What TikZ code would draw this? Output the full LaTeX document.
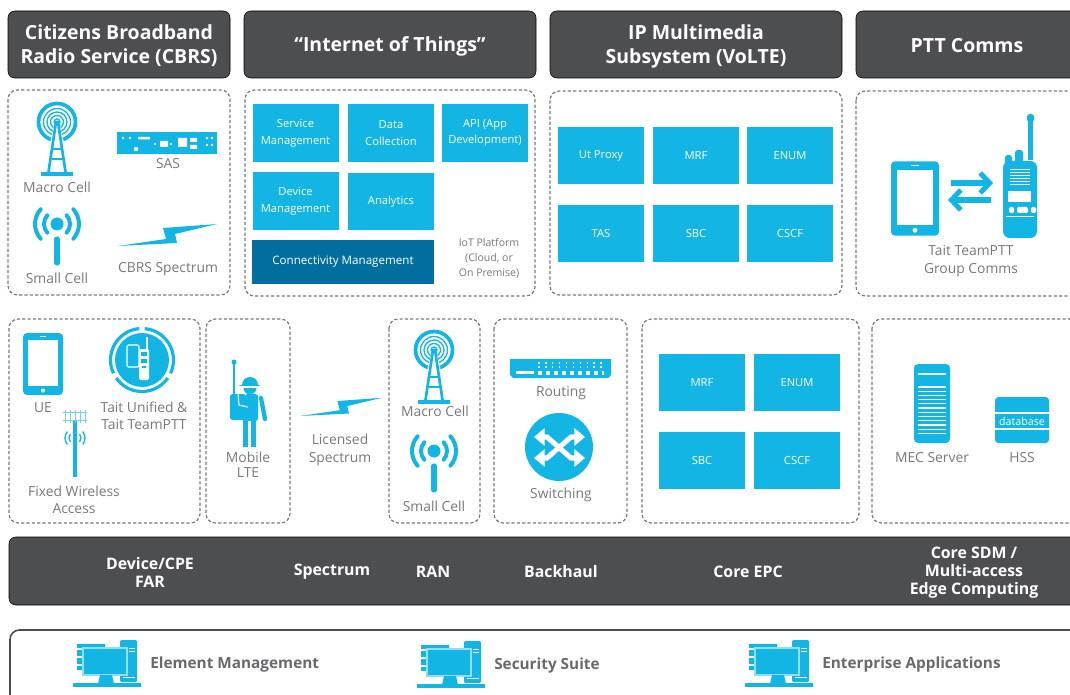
\documentclass[tikz,border=0pt]{standalone}
\usepackage{fontspec}
\setmainfont{Open Sans}
\usetikzlibrary{arrows.meta}
\definecolor{taitblue}{HTML}{12B5E3}
\definecolor{taitdark}{HTML}{006F9F}
\definecolor{slate}{HTML}{4D4E50}
\definecolor{labelgrey}{HTML}{77787A}
\tikzset{
  icon/.style={yscale=-1},
  panel/.style={draw=labelgrey,line width=0.9pt,dash pattern=on 2.4pt off 1.6pt,rounded corners=7pt},
  hdrbox/.style={fill=slate,rounded corners=5pt},
  hdrtext/.style={text=white,align=center,font=\fontsize{14.6}{18}\selectfont\bfseries},
  bartext/.style={text=white,align=center,font=\fontsize{11.9}{13.5}\selectfont\bfseries},
  lbl/.style={text=labelgrey,align=center,font=\fontsize{10.4}{12.5}\selectfont},
  block/.style={fill=taitblue,text=white,align=center,minimum width=64.5pt,minimum height=43pt,inner sep=0pt,font=\fontsize{8.4}{12.5}\selectfont},
  mgmt/.style={text=slate!85,anchor=west,font=\fontsize{11.5}{13}\selectfont\bfseries},
  pics/macrocell/.style={code={
    \draw[taitblue,line width=2.8pt] (0,0) circle (18.5);
    \draw[taitblue,line width=1pt] (0,0) circle (13.5) (0,0) circle (10) (0,0) circle (6.5) (0,0) circle (3);
    \fill[white] (-2,0) -- (-14,50) -- (14,50) -- (2,0) -- cycle;
    \draw[taitblue,line width=2pt] (-8.5,50) -- (-1,0) -- (1,0) -- (8.5,50);
    \draw[taitblue,line width=1pt] (-4,27) -- (4,27) (-5.5,37) -- (5.5,37);
    \fill[taitblue] (-16,50) rectangle (16,54);
  }},
  pics/smallcell/.style={code={
    \fill[taitblue] (0,0) circle (6.5);
    \draw[taitblue,line width=3pt,line cap=round] (-42:13) arc[start angle=-42,end angle=42,radius=13];
    \draw[taitblue,line width=3pt,line cap=round] (138:13) arc[start angle=138,end angle=222,radius=13];
    \draw[taitblue,line width=3pt,line cap=round] (-42:22) arc[start angle=-42,end angle=42,radius=22];
    \draw[taitblue,line width=3pt,line cap=round] (138:22) arc[start angle=138,end angle=222,radius=22];
    \draw[taitblue,line width=3.8pt,line cap=round] (0,15) -- (0,39);
  }},
  pics/bolt/.style={code={
    \fill[taitblue] (0,0) -- (48,-7) -- (45,-18) -- (99,-22) -- (57,-12) -- (59,-3) -- cycle;
  }},
  pics/tablet/.style={code={
    \fill[taitblue,rounded corners=3pt] (-20,-31) rectangle (20,31);
    \fill[white] (-15,-24) rectangle (15,22);
    \fill[white] (0,26.5) circle (2);
    \draw[white,line width=0.6pt] (-3,-27.5) -- (3,-27.5);
  }},
  pics/computer/.style={code={
    \fill[taitblue] (4,4) rectangle (32,8) (4,10) rectangle (12,16) (4,18) rectangle (12,24) (4,26) rectangle (12,30);
    \fill[taitblue,rounded corners=1pt] (47,0) rectangle (64,42);
    \draw[white,line width=0.5pt] (56,8) -- (62,8) (56,11) -- (62,11) (50,37) -- (62,37);
    \draw[taitblue!45,fill=taitblue,line width=0.9pt] (10,8) rectangle (54,35);
    \fill[taitblue] (27,35) -- (39,35) -- (41,44) -- (25,44) -- cycle;
    \fill[taitblue] (0,43) rectangle (68,46.5);
  }}
}
\begin{document}
\begin{tikzpicture}[x=0.75pt,y=0.75pt,yscale=-1,xscale=1]
\clip (0,0) rectangle (1070,695);

%Shape: Header Bars
\draw [hdrbox] (8,11) rectangle (230,78);
\draw [hdrbox] (244,11) rectangle (536,78);
\draw [hdrbox] (550,11) rectangle (842,78);
\draw [hdrbox] (856,11) rectangle (1080,78);
% Text Node
\node (hdrcbrs) at (119,46) [hdrtext] {Citizens Broadband\\Radio Service (CBRS)};
\node (hdriot) at (390,46) [hdrtext] {“Internet of Things”};
\node (hdrims) at (696,46) [hdrtext] {IP Multimedia\\Subsystem (VoLTE)};
\node (hdrptt) at (967,45.5) [hdrtext] {PTT Comms};

%Shape: Dashed Panels
\draw [panel] (8,90) rectangle (230,295);
\draw [panel] (245,90) rectangle (535,296);
\draw [panel] (550,91) rectangle (842,295);
\draw [panel] (856,91) rectangle (1085,296);
\draw [panel] (9,319) rectangle (200,523);
\draw [panel] (206,319) rectangle (290,523);
\draw [panel] (389,319) rectangle (480,523);
\draw [panel] (494,319) rectangle (627,523);
\draw [panel] (642,319) rectangle (859,523);
\draw [panel] (872,319) rectangle (1085,523);

%Shape: CBRS Icons
\pic (macroa) at (57,122) [icon] {macrocell};
\pic (smalla) at (57,224) [icon] {smallcell};
\pic (bolta) at (118,246) [icon] {bolt};
\fill [taitblue] (117,132) rectangle (217,154);
\fill [white] (123,138) circle (1.3) (130,138) circle (1.3) (136,149) circle (2.2) (207,138) circle (1.3) (212,138) circle (1.3) (207,145) circle (1.3) (212,145) circle (1.3);
\fill [white] (138,137) rectangle (150,139.5) (160,141) rectangle (168,147) (178,138) rectangle (187,147) (190,138) rectangle (197,142) (190,145) rectangle (197,149);
\fill [white] (155,144) circle (1.2) (171,144) circle (1.2);
% Text Node
\node (lblmacroa) at (57,187) [lbl] {Macro Cell};
\node (lblsas) at (168,164) [lbl] {SAS};
\node (lblsmalla) at (57,278) [lbl] {Small Cell};
\node (lblcbrs) at (168,269) [lbl] {CBRS Spectrum};

%Shape: IoT Blocks
\node (svc) at (295.5,133) [block] {Service\\Management};
\node (data) at (391,133) [block] {Data\\Collection};
\node (api) at (485,133) [block] {API (App\\Development)};
\node (dev) at (295.5,201) [block] {Device\\Management};
\node (ana) at (391,201.5) [block] {Analytics};
\node (conn) at (343,262) [block,fill=taitdark,minimum width=136.5pt,minimum height=33pt,font=\fontsize{8.7}{12.5}\selectfont] {Connectivity Management};
% Text Node
\node (lbliot) at (489,258) [lbl,font=\fontsize{7.9}{11.2}\selectfont] {IoT Platform\\(Cloud, or\\On Premise)};

%Shape: VoLTE Blocks
\node (utp) at (601,155.5) [block] {Ut Proxy};
\node (mrfa) at (696,155.5) [block] {MRF};
\node (enuma) at (790,155.5) [block] {ENUM};
\node (tas) at (601,233.5) [block] {TAS};
\node (sbca) at (696,233.5) [block] {SBC};
\node (cscfa) at (790,233.5) [block] {CSCF};

%Shape: PTT Icons
\pic (tabptt) at (915,198.5) [icon,scale=1.2] {tablet};
\draw [taitblue,line width=3.8pt,-{Straight Barb[length=7pt,width=15pt]}] (951,183) -- (993,183);
\draw [taitblue,line width=3.8pt,-{Straight Barb[length=7pt,width=15pt]}] (991,200) -- (948,200);
%Shape: Radio
\fill [taitblue,rounded corners=2pt] (1027,114) rectangle (1034,122);
\fill [taitblue] (1028,120) rectangle (1033,160);
\fill [taitblue,rounded corners=2pt] (1005,155) rectangle (1012,165) (1015,150) rectangle (1023,165);
\fill [taitblue,rounded corners=5pt] (1003,161) rectangle (1037,238);
\draw [white,line width=0.7pt] (1010,169) -- (1030,169) (1010,172) -- (1030,172) (1010,175) -- (1030,175) (1010,178) -- (1030,178) (1010,181) -- (1030,181) (1010,184) -- (1030,184);
\fill [white] (1008,191) rectangle (1031,202);
\fill [white,rounded corners=1pt] (1009,207) rectangle (1014,213) (1017,207) rectangle (1028,213) (1031,207) rectangle (1036,213);
\draw [white,line width=0.7pt] (1006,216) -- (1034,216);
% Text Node
\node (lblptt) at (971,261) [lbl,font=\fontsize{10.4}{13.5}\selectfont] {Tait TeamPTT\\Group Comms};

%Shape: Device Icons
\pic (tabue) at (43,364) [icon] {tablet};
\fill [taitblue] (142,360) circle (27);
\draw [taitblue,line width=2.4pt] (-85:31.5)++(142,360) arc[start angle=-85,end angle=25,radius=31.5];
\draw [taitblue,line width=2.4pt] (35:31.5)++(142,360) arc[start angle=35,end angle=145,radius=31.5];
\draw [taitblue,line width=2.4pt] (155:31.5)++(142,360) arc[start angle=155,end angle=265,radius=31.5];
\draw [white,line width=0.8pt,rounded corners=1pt] (127,345) rectangle (139,367);
\fill [white,rounded corners=1pt] (139,349) rectangle (149,380);
\draw [white,line width=0.8pt] (147,337) -- (147,349);
\fill [taitblue] (141,352) rectangle (147,356) (141,359) rectangle (147,363) (142,366) rectangle (146,368);
%Shape: Fixed Wireless
\draw [taitblue,line width=2.8pt] (75,420) -- (75,477);
\draw [taitblue!60,line width=0.7pt] (63,412) -- (87,412) (63,420) -- (87,420) (65,410) -- (65,423) (70,410) -- (70,423) (75,410) -- (75,423) (80,410) -- (80,423) (85,410) -- (85,423);
\draw [taitblue,line width=1pt] (-40:6)++(75,438) arc[start angle=-40,end angle=40,radius=6];
\draw [taitblue,line width=1pt] (-40:10)++(75,438) arc[start angle=-40,end angle=40,radius=10];
\draw [taitblue,line width=1pt] (140:6)++(75,438) arc[start angle=140,end angle=220,radius=6];
\draw [taitblue,line width=1pt] (140:10)++(75,438) arc[start angle=140,end angle=220,radius=10];
% Text Node
\node (lblue) at (43,407.5) [lbl] {UE};
\node (lbluni) at (144,415.5) [lbl] {Tait Unified \&\\Tait TeamPTT};
\node (lblfwa) at (74,499.5) [lbl] {Fixed Wireless\\Access};

%Shape: Mobile Person
\fill [taitblue] (234,362) circle (2.5);
\draw [taitblue,line width=1.2pt] (234,362) -- (234,395);
\fill [taitblue,rounded corners=2pt] (230,394) rectangle (246,420);
\fill [taitblue,rounded corners=2pt] (245,394) rectangle (258,421);
\draw [white,line width=0.8pt] (238,393) -- (239,405) -- (248,407);
\fill [taitblue] (242,385) arc[start angle=180,end angle=360,radius=8] -- cycle;
\draw [taitblue,line width=1.2pt,line cap=round] (240,385.5) -- (259,385.5);
\fill [taitblue] (243.5,388) arc[start angle=180,end angle=0,radius=6.5] -- cycle;
\draw [taitblue,line width=4.4pt] (245.5,419) -- (245.5,447) (253.5,419) -- (253.5,447);
\draw [taitblue,line width=3.2pt,line cap=round] (261,398) -- (265,419);
% Text Node
\node (lblmob) at (248,465) [lbl,font=\fontsize{10.4}{11.5}\selectfont] {Mobile\\LTE};

%Shape: Licensed Bolt
\pic (boltb) at (300,416) [icon,scale=0.83] {bolt};
% Text Node
\node (lbllic) at (340,450) [lbl,font=\fontsize{10.4}{13.5}\selectfont] {Licensed\\Spectrum};

%Shape: RAN Icons
\pic (macrob) at (434,350) [icon] {macrocell};
\pic (smallb) at (434,451) [icon] {smallcell};
% Text Node
\node (lblmacrob) at (435,411.5) [lbl] {Macro Cell};
\node (lblsmallb) at (434,506.5) [lbl] {Small Cell};

%Shape: Routing
\fill [taitblue] (510,359) -- (611,359) -- (611,375) -- (608,378) -- (513,378) -- (510,375) -- cycle;
\draw [white,line width=0.8pt,dash pattern=on 1.2pt off 4pt] (538,363) -- (604,363) (538,367) -- (604,367);
\draw [white,line width=3pt,dash pattern=on 3pt off 3pt] (538,372.5) -- (604,372.5);
\fill [white] (516,371) rectangle (534,374);
%Shape: Switching
\fill [taitblue] (559,447) circle (34);
\draw [white,line width=3.8pt,{Triangle[length=8pt,width=13pt]}-{Triangle[length=8pt,width=13pt]}] (534,437) -- (547,437) -- (571,458) -- (585,458);
\draw [white,line width=3.8pt,{Triangle[length=8pt,width=13pt]}-{Triangle[length=8pt,width=13pt]}] (534,458) -- (547,458) -- (571,437) -- (585,437);
% Text Node
\node (lblrout) at (561,393.5) [lbl] {Routing};
\node (lblswit) at (561,494.5) [lbl] {Switching};

%Shape: Core EPC Blocks
\node (mrfb) at (702,382.5) [block] {MRF};
\node (enumb) at (797,382.5) [block] {ENUM};
\node (sbcb) at (702,460.5) [block] {SBC};
\node (cscfb) at (797,460.5) [block] {CSCF};

%Shape: MEC Server
\fill [taitblue,rounded corners=3pt] (914,364) rectangle (950,443);
\draw [white,line width=0.8pt] (918,374) -- (946,374) (918,387) -- (946,387) (918,391.2) -- (946,391.2) (918,395.3) -- (946,395.3) (918,399.5) -- (946,399.5) (918,403.7) -- (946,403.7) (918,408) -- (946,408) (918,412.2) -- (946,412.2) (918,416.5) -- (946,416.5) (918,420.7) -- (946,420.7) (918,425) -- (946,425) (918,429.2) -- (946,429.2) (918,433.5) -- (946,433.5);
%Shape: HSS
\fill [taitblue,rounded corners=2.5pt] (995,397) rectangle (1049,443);
\draw [white,line width=0.9pt] (995,413) -- (1049,413) (995,429) -- (1049,429);
% Text Node
\node (lbldb) at (1022,421) [text=white,font=\fontsize{8}{10}\selectfont] {database};
\node (lblmec) at (932,457.5) [lbl] {MEC Server};
\node (lblhss) at (1022,457.5) [lbl] {HSS};

%Shape: Bottom Bar
\draw [hdrbox] (9,537) rectangle (1085,605);
% Text Node
\node (bardev) at (150,572.5) [bartext] {Device/CPE\\FAR};
\node (barspec) at (332,572) [bartext] {Spectrum};
\node (barran) at (433,572) [bartext] {RAN};
\node (barback) at (561,572) [bartext] {Backhaul};
\node (barcore) at (748,572) [bartext] {Core EPC};
\node (barsdm) at (974,572.5) [bartext] {Core SDM /\\Multi-access\\Edge Computing};

%Shape: Management Frame
\draw [slate,line width=1.2pt,rounded corners=7pt] (10,630) rectangle (1090,710);
\pic (compa) at (73,640) [icon] {computer};
\pic (compb) at (417,641) [icon] {computer};
\pic (compc) at (745,640) [icon] {computer};
% Text Node
\node (lblelem) at (150,665) [mgmt,inner sep=0pt] {Element Management};
\node (lblsec) at (494,666) [mgmt,inner sep=0pt] {Security Suite};
\node (lblent) at (822,665) [mgmt,inner sep=0pt] {Enterprise Applications};

\end{tikzpicture}
\end{document}
